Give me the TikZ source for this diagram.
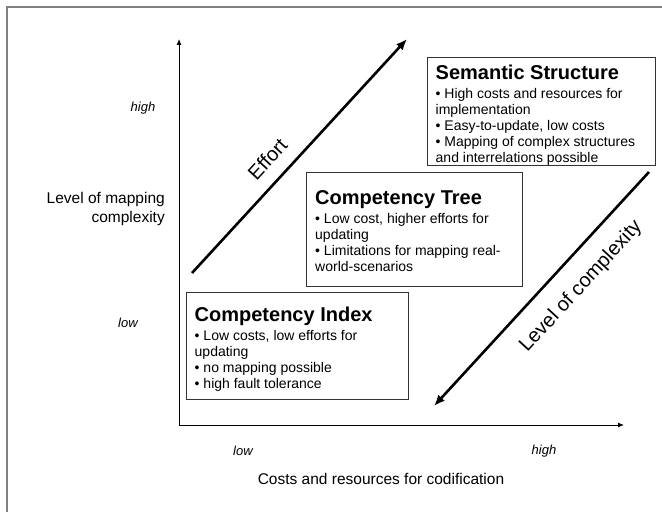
\documentclass[tikz,border=0pt]{standalone}
\usepackage{fontspec}
\setmainfont{Liberation Sans}
\usetikzlibrary{arrows.meta,calc}
\newcommand{\paneltitle}{\fontsize{20}{22}\selectfont\bfseries}
\begin{document}
\begin{tikzpicture}[x=1pt,y=1pt,
  panel/.style={draw=black!80, line width=1.1pt, rectangle, inner sep=0pt, anchor=north west},
  paneltext/.style={anchor=north west, inner sep=0pt, align=left, font=\fontsize{14}{16}\selectfont},
  axis/.style={line width=0.9pt, -{Latex[length=6pt,width=5pt]}},
  trend/.style={line width=2.6pt, -{Latex[length=11pt,width=9pt]}},
  trendlabel/.style={font=\fontsize{20}{24}\selectfont, inner sep=0pt, sloped},
  scalelabel/.style={font=\fontsize{13}{15}\selectfont\itshape, inner sep=0pt},
  axislabel/.style={font=\fontsize{15.5}{19}\selectfont, inner sep=0pt, align=right},
]
\useasboundingbox (0,0) rectangle (662,512);
\fill[white] (0,0) rectangle (662,512);
% outer frame
\draw[gray, line width=1.5pt] (7,0) -- (7,505) -- (662,505);

% axes
\coordinate (origin) at (179,87);
\coordinate (ytop) at (179,473);
\coordinate (xend) at (624,87);
\draw[axis] (origin) -- (ytop);
\draw[axis] (origin) -- (xend);

% axis scale labels
\node[scalelabel] (yhigh) at (143,404) {high};
\node[scalelabel] (ylow) at (128,189) {low};
\node[scalelabel] (xlow) at (243,61) {low};
\node[scalelabel] (xhigh) at (544,61) {high};
\node[axislabel, anchor=east] (ytitle) at (165,303) {Level of mapping\\complexity};
\node[axislabel] (xtitle) at (381,33) {Costs and resources for codification};

% trend arrows
\coordinate (e0) at (192,239);
\coordinate (e1) at (407,473);
\draw[trend] (e0) -- node[trendlabel, pos=0.425, above=13pt] (effort) {Effort} (e1);
\coordinate (c0) at (649,340);
\coordinate (c1) at (434,106);
\draw[trend] (c0) -- node[trendlabel, pos=0.41, below=17pt] (complexity) {Level of complexity} (c1);

% panels
\node[panel, minimum width=228pt, minimum height=108pt] (sem) at (427,455) {};
\node[paneltext] (semtext) at ($(sem.north west)+(8.5,-8)$)
  {{\paneltitle Semantic Structure}\\[3pt]
   • High costs and resources for\\
   implementation\\
   • Easy-to-update, low costs\\
   • Mapping of complex structures\\
   and interrelations possible};

\node[panel, minimum width=216pt, minimum height=114pt] (tree) at (306,340) {};
\node[paneltext] (treetext) at ($(tree.north west)+(9,-18)$)
  {{\paneltitle Competency Tree}\\[3pt]
   • Low cost, higher efforts for\\
   updating\\
   • Limitations for mapping real-\\
   world-scenarios};

\node[panel, minimum width=222pt, minimum height=107pt] (index) at (186,220) {};
\node[paneltext] (indextext) at ($(index.north west)+(8.5,-15)$)
  {{\paneltitle Competency Index}\\[3pt]
   • Low costs, low efforts for\\
   updating\\
   • no mapping possible\\
   • high fault tolerance};
\end{tikzpicture}
\end{document}
